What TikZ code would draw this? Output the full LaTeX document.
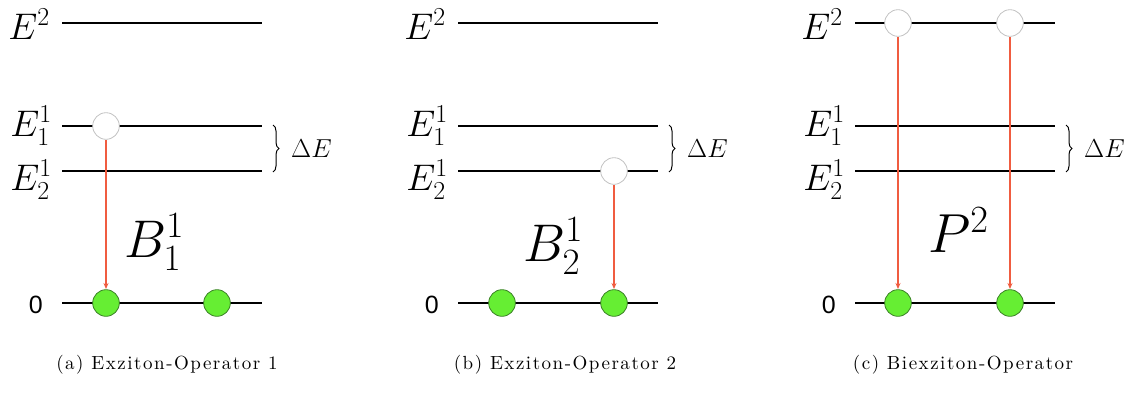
\RequirePackage{fix-cm}
\documentclass[tikz,border=0pt]{standalone}
\usepackage{fontspec}
\newfontfamily\hv{Liberation Sans}
\newfontfamily\capfont[LetterSpace=8]{lmroman10-regular.otf}
\usetikzlibrary{arrows.meta,decorations.pathreplacing}
\definecolor{arrowred}{RGB}{240,92,64}
\definecolor{dotgreen}{RGB}{102,238,51}
\definecolor{dotedge}{RGB}{60,130,40}
\definecolor{openedge}{RGB}{195,195,195}
\tikzset{
  level/.style={line width=1.5pt,black},
  elab/.style={inner sep=0pt,anchor=base east,font=\fontsize{37}{40}\selectfont},
  zlab/.style={inner sep=0pt,anchor=base east,font=\hv\fontsize{25}{28}\selectfont},
  dlab/.style={inner sep=0pt,anchor=base west,font=\fontsize{26}{30}\selectfont},
  blab/.style={inner sep=0pt,anchor=base west,font=\fontsize{53}{58}\selectfont},
  plab/.style={inner sep=0pt,anchor=base west,font=\fontsize{55}{60}\selectfont},
  caption/.style={inner sep=0pt,anchor=base,font=\capfont\fontsize{19}{22}\selectfont},
  openstate/.style={circle,draw=openedge,fill=white,line width=0.8pt,minimum size=26.6pt,inner sep=0pt},
  fullstate/.style={circle,draw=dotedge,fill=dotgreen,line width=0.8pt,minimum size=26.6pt,inner sep=0pt},
  decay/.style={draw=arrowred,line width=1.5pt,-{Stealth[length=6pt,width=5pt]},shorten <=0.6pt,shorten >=0.3pt},
  gapbrace/.style={decorate,decoration={brace,amplitude=6pt},line width=1pt}
}
\begin{document}
\begin{tikzpicture}[x=1pt,y=-1pt]
\useasboundingbox (0,0) rectangle (1130,402);
\foreach \p/\s in {a/0,b/396,c/793}{
  \coordinate (\p-E2-w) at ({62+\s},23);
  \coordinate (\p-E2-e) at ({262+\s},23);
  \coordinate (\p-E11-w) at ({62+\s},126);
  \coordinate (\p-E11-e) at ({262+\s},126);
  \coordinate (\p-E21-w) at ({62+\s},171);
  \coordinate (\p-E21-e) at ({262+\s},171);
  \coordinate (\p-G-w) at ({62+\s},303);
  \coordinate (\p-G-e) at ({262+\s},303);
  \draw[level] (\p-E2-w) -- (\p-E2-e);
  \draw[level] (\p-E11-w) -- (\p-E11-e);
  \draw[level] (\p-E21-w) -- (\p-E21-e);
  \draw[level] (\p-G-w) -- (\p-G-e);
  \node[elab] (\p-lE2) at ({50+\s},39) {$E^2$};
  \node[elab] (\p-lE11) at ({52+\s},136) {$E^1_1$};
  \node[elab] (\p-lE21) at ({52+\s},190) {$E^1_2$};
  \node[zlab] (\p-l0) at ({43+\s},313) {0};
  \coordinate (\p-br-t) at ({273+\s},125);
  \coordinate (\p-br-b) at ({273+\s},172);
  \draw[gapbrace] (\p-br-t) -- (\p-br-b);
  \node[dlab] (\p-dE) at ({291+\s},157) {$\Delta E$};
}
% panel (a)
\node[openstate] (a-o1) at (106,126) {};
\node[fullstate] (a-g1) at (106,303) {};
\node[fullstate] (a-g2) at (217,303) {};
\draw[decay] (a-o1.south) -- (a-g1.north);
\node[blab] (a-B) at (124,257) {$B^1_1$};
\node[caption] (a-cap) at (167,369) {(a) Exziton-Operator 1};
% panel (b)
\node[openstate] (b-o1) at (614,171) {};
\node[fullstate] (b-g1) at (502,303) {};
\node[fullstate] (b-g2) at (614,303) {};
\draw[decay] (b-o1.south) -- (b-g2.north);
\node[blab] (b-B) at (523,261) {$B^1_2$};
\node[caption] (b-cap) at (565,369) {(b) Exziton-Operator 2};
% panel (c)
\node[openstate] (c-o1) at (898,23) {};
\node[openstate] (c-o2) at (1010,23) {};
\node[fullstate] (c-g1) at (898,303) {};
\node[fullstate] (c-g2) at (1010,303) {};
\draw[decay] (c-o1.south) -- (c-g1.north);
\draw[decay] (c-o2.south) -- (c-g2.north);
\node[plab] (c-P) at (928,252) {$P^2$};
\node[caption] (c-cap) at (963,369) {(c) Biexziton-Operator};
\end{tikzpicture}
\end{document}
